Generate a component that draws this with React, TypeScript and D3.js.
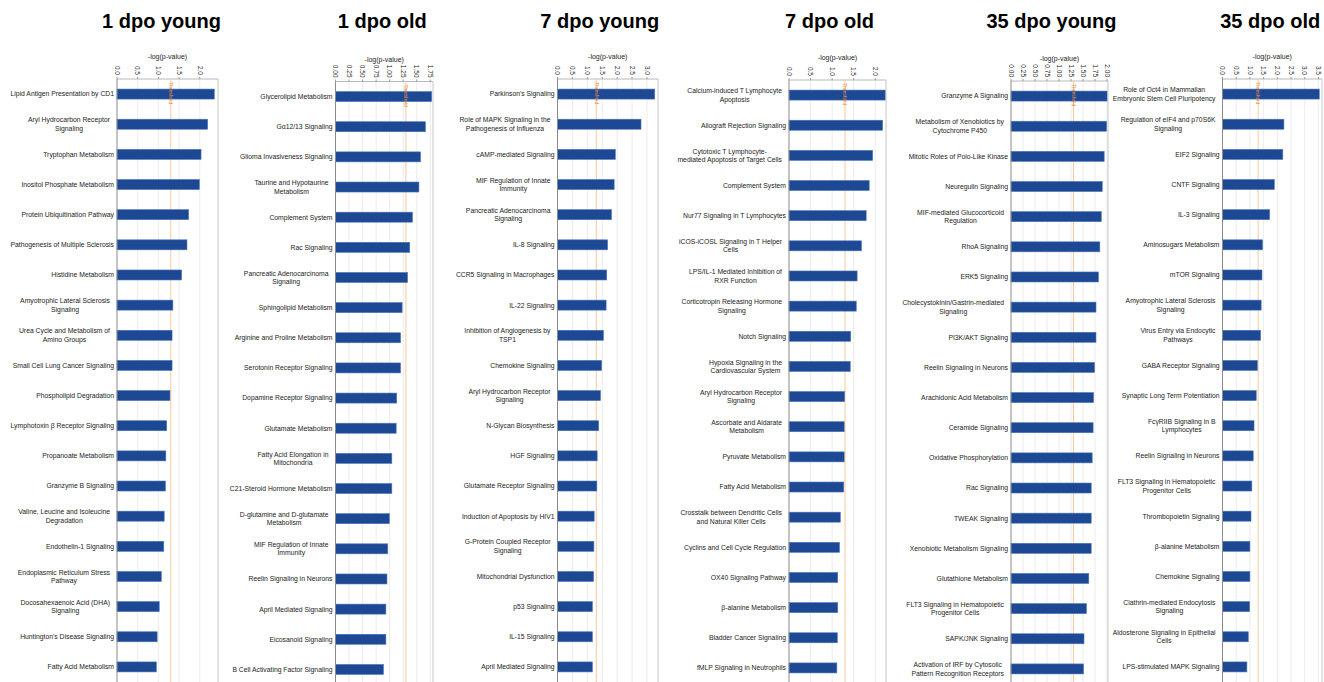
import React, { useEffect, useRef } from "react";
import * as d3 from "d3";

const panelTitles = ["1 dpo young", "1 dpo old", "7 dpo young", "7 dpo old", "35 dpo young", "35 dpo old"];

const cats1dpoYoung = [
  "Lipid Antigen Presentation by CD1",
  "Aryl Hydrocarbon Receptor\nSignaling",
  "Tryptophan Metabolism",
  "Inositol Phosphate Metabolism",
  "Protein Ubiquitination Pathway",
  "Pathogenesis of Multiple Sclerosis",
  "Histidine Metabolism",
  "Amyotrophic Lateral Sclerosis\nSignaling",
  "Urea Cycle and Metabolism of\nAmino Groups",
  "Small Cell Lung Cancer Signaling",
  "Phospholipid Degradation",
  "Lymphotoxin β Receptor Signaling",
  "Propanoate Metabolism",
  "Granzyme B Signaling",
  "Valine, Leucine and Isoleucine\nDegradation",
  "Endothelin-1 Signaling",
  "Endoplasmic Reticulum Stress\nPathway",
  "Docosahexaenoic Acid (DHA)\nSignaling",
  "Huntington's Disease Signaling",
  "Fatty Acid Metabolism",
];
const vals1dpoYoung = [2.35, 2.19, 2.03, 1.99, 1.73, 1.69, 1.56, 1.35, 1.33, 1.33, 1.28, 1.2, 1.18, 1.17, 1.14, 1.13, 1.07, 1.02, 0.97, 0.95];

const cats1dpoOld = [
  "Glycerolipid Metabolism",
  "Gα12/13 Signaling",
  "Glioma Invasiveness Signaling",
  "Taurine and Hypotaurine\nMetabolism",
  "Complement System",
  "Rac Signaling",
  "Pancreatic Adenocarcinoma\nSignaling",
  "Sphingolipid Metabolism",
  "Arginine and Proline Metabolism",
  "Serotonin Receptor Signaling",
  "Dopamine Receptor Signaling",
  "Glutamate Metabolism",
  "Fatty Acid Elongation in\nMitochondria",
  "C21-Steroid Hormone Metabolism",
  "D-glutamine and D-glutamate\nMetabolism",
  "MIF Regulation of Innate\nImmunity",
  "Reelin Signaling in Neurons",
  "April Mediated Signaling",
  "Eicosanoid Signaling",
  "B Cell Activating Factor Signaling",
];
const vals1dpoOld = [1.775, 1.66, 1.57, 1.54, 1.42, 1.37, 1.33, 1.23, 1.2, 1.2, 1.13, 1.12, 1.04, 1.04, 0.995, 0.965, 0.95, 0.93, 0.93, 0.885];

const cats7dpoYoung = [
  "Parkinson's Signaling",
  "Role of MAPK Signaling in the\nPathogenesis of Influenza",
  "cAMP-mediated Signaling",
  "MIF Regulation of Innate\nImmunity",
  "Pancreatic Adenocarcinoma\nSignaling",
  "IL-8 Signaling",
  "CCR5 Signaling in Macrophages",
  "IL-22 Signaling",
  "Inhibition of Angiogenesis by\nTSP1",
  "Chemokine Signaling",
  "Aryl Hydrocarbon Receptor\nSignaling",
  "N-Glycan Biosynthesis",
  "HGF Signaling",
  "Glutamate Receptor Signaling",
  "Induction of Apoptosis by HIV1",
  "G-Protein Coupled Receptor\nSignaling",
  "Mitochondrial Dysfunction",
  "p53 Signaling",
  "IL-15 Signaling",
  "April Mediated Signaling",
];
const vals7dpoYoung = [3.26, 2.8, 1.94, 1.9, 1.81, 1.68, 1.65, 1.63, 1.54, 1.48, 1.44, 1.38, 1.33, 1.32, 1.23, 1.22, 1.21, 1.17, 1.17, 1.17];

const cats7dpoOld = [
  "Calcium-induced T Lymphocyte\nApoptosis",
  "Allograft Rejection Signaling",
  "Cytotoxic T Lymphocyte-\nmediated Apoptosis of Target Cells",
  "Complement System",
  "Nur77 Signaling in T Lymphocytes",
  "iCOS-iCOSL Signaling in T Helper\nCells",
  "LPS/IL-1 Mediated Inhibition of\nRXR Function",
  "Corticotropin Releasing Hormone\nSignaling",
  "Notch Signaling",
  "Hypoxia Signaling in the\nCardiovascular System",
  "Aryl Hydrocarbon Receptor\nSignaling",
  "Ascorbate and Aldarate\nMetabolism",
  "Pyruvate Metabolism",
  "Fatty Acid Metabolism",
  "Crosstalk between Dendritic Cells\nand Natural Killer Cells",
  "Cyclins and Cell Cycle Regulation",
  "OX40 Signaling Pathway",
  "β-alanine Metabolism",
  "Bladder Cancer Signaling",
  "fMLP Signaling in Neutrophils",
];
const vals7dpoOld = [2.23, 2.17, 1.94, 1.86, 1.79, 1.68, 1.58, 1.56, 1.43, 1.42, 1.29, 1.28, 1.28, 1.27, 1.19, 1.17, 1.13, 1.13, 1.12, 1.11];

const cats35dpoYoung = [
  "Granzyme A Signaling",
  "Metabolism of Xenobiotics by\nCytochrome P450",
  "Mitotic Roles of Polo-Like Kinase",
  "Neuregulin Signaling",
  "MIF-mediated Glucocorticoid\nRegulation",
  "RhoA Signaling",
  "ERK5 Signaling",
  "Cholecystokinin/Gastrin-mediated\nSignaling",
  "PI3K/AKT Signaling",
  "Reelin Signaling in Neurons",
  "Arachidonic Acid Metabolism",
  "Ceramide Signaling",
  "Oxidative Phosphorylation",
  "Rac Signaling",
  "TWEAK Signaling",
  "Xenobiotic Metabolism Signaling",
  "Glutathione Metabolism",
  "FLT3 Signaling in Hematopoietic\nProgenitor Cells",
  "SAPK/JNK Signaling",
  "Activation of IRF by Cytosolic\nPattern Recognition Receptors",
];
const vals35dpoYoung = [2.0, 1.99, 1.94, 1.9, 1.88, 1.85, 1.82, 1.77, 1.77, 1.74, 1.72, 1.71, 1.69, 1.67, 1.67, 1.67, 1.62, 1.57, 1.52, 1.51];

const cats35dpoOld = [
  "Role of Oct4 in Mammalian\nEmbryonic Stem Cell Pluripotency",
  "Regulation of eIF4 and p70S6K\nSignaling",
  "EIF2 Signaling",
  "CNTF Signaling",
  "IL-3 Signaling",
  "Aminosugars Metabolism",
  "mTOR Signaling",
  "Amyotrophic Lateral Sclerosis\nSignaling",
  "Virus Entry via Endocytic\nPathways",
  "GABA Receptor Signaling",
  "Synaptic Long Term Potentiation",
  "FcγRIIB Signaling in B\nLymphocytes",
  "Reelin Signaling in Neurons",
  "FLT3 Signaling in Hematopoietic\nProgenitor Cells",
  "Thrombopoietin Signaling",
  "β-alanine Metabolism",
  "Chemokine Signaling",
  "Clathrin-mediated Endocytosis\nSignaling",
  "Aldosterone Signaling in Epithelial\nCells",
  "LPS-stimulated MAPK Signaling",
];
const vals35dpoOld = [3.53, 2.24, 2.2, 1.89, 1.72, 1.46, 1.44, 1.41, 1.39, 1.27, 1.23, 1.15, 1.12, 1.07, 1.04, 1.0, 1.0, 0.99, 0.94, 0.89];

const axisMax = [2.44, 1.8, 3.37, 2.25, 2.02, 3.63];
const tickSteps = [0.5, 0.25, 0.5, 0.5, 0.25, 0.5];
const tickDecimals = [1, 2, 1, 1, 2, 1];
const threshold = 1.3;
const axisTitle = "-log(p-value)";
const thresholdLabel = "Threshold";

const allCats = [cats1dpoYoung, cats1dpoOld, cats7dpoYoung, cats7dpoOld, cats35dpoYoung, cats35dpoOld];
const allVals = [vals1dpoYoung, vals1dpoOld, vals7dpoYoung, vals7dpoOld, vals35dpoYoung, vals35dpoOld];

// layout (pixels)
const plotLeft = [117, 335.5, 557.5, 789, 1011, 1222.5];
const plotRight = [218, 433, 658, 886, 1108, 1322];
const plotTopOffset = [0, 2.5, 0, 1, 2, 0];
const titleShift = [-6, -2, -8, -8, -8, -2];
const W = 1324;
const H = 682;

export default function App() {
  const ref = useRef<SVGSVGElement | null>(null);

  useEffect(() => {
    const svg = d3.select(ref.current);
    svg.selectAll("*").remove();
    svg.append("rect").attr("width", W).attr("height", H).attr("fill", "#ffffff");

    const labelFont = "'Liberation Sans', Arial, sans-serif";

    allCats.forEach((cats, i) => {
      const vals = allVals[i];
      const top = 79 + plotTopOffset[i];
      const step = 30.15;
      const x = d3.scaleLinear().domain([0, axisMax[i]]).range([plotLeft[i], plotRight[i]]);
      const y = d3.scaleBand<string>().domain(cats).range([top, top + step * cats.length]).padding(0);
      const barH = 10;
      const g = svg.append("g");

      const ticks = d3.range(0, axisMax[i] + 1e-9, tickSteps[i]);

      // gridlines
      g.selectAll("line.grid")
        .data(ticks.slice(1))
        .join("line")
        .attr("x1", (d) => x(d))
        .attr("x2", (d) => x(d))
        .attr("y1", top)
        .attr("y2", H)
        .attr("stroke", "#ececec")
        .attr("stroke-width", 1);

      // frame
      g.append("line")
        .attr("x1", plotLeft[i]).attr("x2", plotRight[i])
        .attr("y1", top).attr("y2", top)
        .attr("stroke", "#b8b8b8");
      g.append("line")
        .attr("x1", plotRight[i]).attr("x2", plotRight[i])
        .attr("y1", top).attr("y2", H)
        .attr("stroke", "#c8c8c8");

      // threshold
      g.append("line")
        .attr("x1", x(threshold)).attr("x2", x(threshold))
        .attr("y1", top).attr("y2", H)
        .attr("stroke", "#f8c89a")
        .attr("stroke-width", 1);

      // bars
      g.selectAll("rect.bar")
        .data(cats)
        .join("rect")
        .attr("x", x(0))
        .attr("y", (c) => (y(c) as number) + (y.bandwidth() - barH) / 2)
        .attr("width", (c, k) => x(vals[k]) - x(0))
        .attr("height", barH)
        .attr("fill", "#1c4894")
        .attr("stroke", "#4a74bb")
        .attr("stroke-width", 0.6);

      // threshold label
      g.append("text")
        .attr("transform", `translate(${x(threshold)},${top + 3}) rotate(90)`)
        .attr("dy", "0.35em")
        .attr("font-family", labelFont)
        .attr("font-size", 5)
        .attr("fill", "#e8903a")
        .text(thresholdLabel);

      // left axis
      g.append("line")
        .attr("x1", plotLeft[i]).attr("x2", plotLeft[i])
        .attr("y1", top).attr("y2", H)
        .attr("stroke", "#8a8a8a");

      // tick marks and labels
      g.selectAll("line.tick")
        .data(ticks)
        .join("line")
        .attr("x1", (d) => x(d))
        .attr("x2", (d) => x(d))
        .attr("y1", top - 2)
        .attr("y2", top)
        .attr("stroke", "#999");
      g.selectAll("text.tick")
        .data(ticks)
        .join("text")
        .attr("transform", (d) => `translate(${x(d)},${top - 4}) rotate(90)`)
        .attr("text-anchor", "end")
        .attr("dy", "0.35em")
        .attr("font-family", labelFont)
        .attr("font-size", 6.5)
        .attr("fill", "#222")
        .text((d) => d.toFixed(tickDecimals[i]));

      g.append("text")
        .attr("x", (plotLeft[i] + plotRight[i]) / 2)
        .attr("y", top - 20)
        .attr("text-anchor", "middle")
        .attr("font-family", labelFont)
        .attr("font-size", 7)
        .attr("fill", "#222")
        .text(axisTitle);

      // title
      g.append("text")
        .attr("x", (plotLeft[i] + plotRight[i]) / 2 + titleShift[i])
        .attr("y", 28)
        .attr("text-anchor", "middle")
        .attr("font-family", labelFont)
        .attr("font-weight", "bold")
        .attr("font-size", 20)
        .attr("fill", "#000")
        .text(panelTitles[i]);

      // category labels
      cats.forEach((c) => {
        const lines = c.split("\n");
        const cy = (y(c) as number) + y.bandwidth() / 2;
        const t = g.append("text")
          .attr("font-family", labelFont)
          .attr("font-size", 6.8)
          .attr("fill", "#222");
        const lh = 8.5;
        lines.forEach((ln, k) => {
          t.append("tspan")
            .attr("y", cy + (k - (lines.length - 1) / 2) * lh)
            .attr("dy", "0.35em")
            .text(ln);
        });
        if (lines.length === 1) {
          t.attr("text-anchor", "end");
          t.selectAll("tspan").attr("x", plotLeft[i] - 3);
        } else {
          let maxW = 0;
          t.selectAll<SVGTSpanElement, unknown>("tspan").each(function () {
            maxW = Math.max(maxW, this.getComputedTextLength());
          });
          t.attr("text-anchor", "middle");
          t.selectAll("tspan").attr("x", plotLeft[i] - 7 - maxW / 2);
        }
      });
    });
  }, []);

  return (
    <svg
      ref={ref}
      width={W}
      height={H}
      style={{ position: "absolute", left: 0, top: 0, display: "block" }}
    />
  );
}
